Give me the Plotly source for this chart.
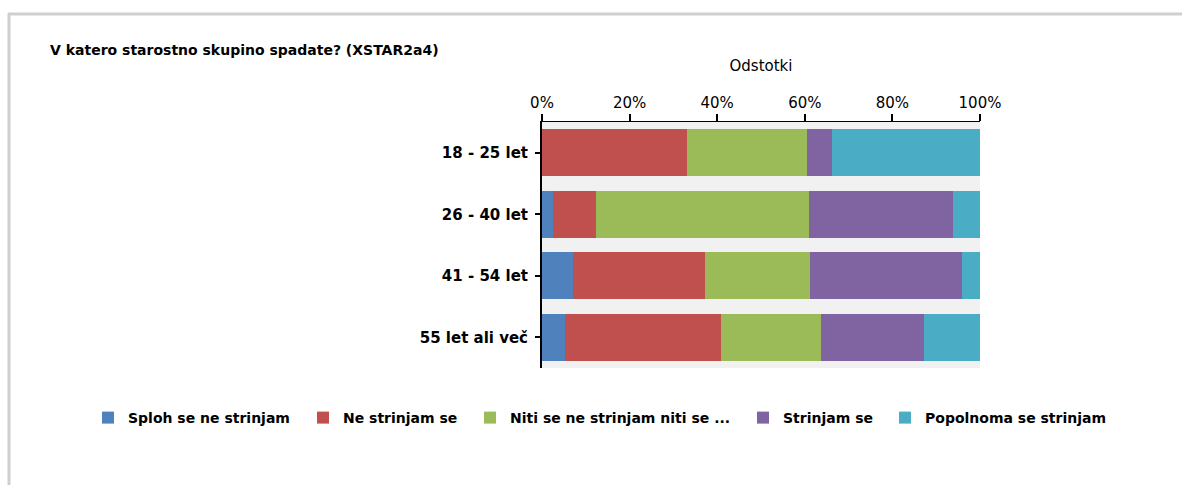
import plotly.graph_objects as go

# Age groups (top to bottom)
categories = ["18 - 25 let", "26 - 40 let", "41 - 54 let", "55 let ali več"]

# Answer shares per age group (fractions of 1)
sploh_se_ne_strinjam = [0.000, 0.024, 0.070, 0.052]
ne_strinjam_se = [0.330, 0.099, 0.302, 0.356]
niti_niti = [0.276, 0.486, 0.239, 0.229]
strinjam_se = [0.056, 0.329, 0.349, 0.234]
popolnoma_se_strinjam = [0.338, 0.062, 0.040, 0.129]

series_names = [
    "Sploh se ne strinjam",
    "Ne strinjam se",
    "Niti se ne strinjam niti se ...",
    "Strinjam se",
    "Popolnoma se strinjam",
]
series_values = [
    sploh_se_ne_strinjam,
    ne_strinjam_se,
    niti_niti,
    strinjam_se,
    popolnoma_se_strinjam,
]
series_colors = ["#4F81BD", "#C0504D", "#9BBB59", "#8064A2", "#4BACC6"]

title_text = "V katero starostno skupino spadate? (XSTAR2a4)"
axis_title = "Odstotki"

FONT = "DejaVu Sans"

# plot area in pixels
PL, PR, PT, PB = 542, 980, 122, 368
PW, PH = PR - PL, PB - PT


def px_x(px):
    return (px - PL) / PW


def px_y(py):
    return (PB - py) / PH


# one legend box per series, left edges along the bottom row (pixels)
legend_ids = ["legend", "legend2", "legend3", "legend4", "legend5"]
legend_left = [88, 303, 470, 743, 885]

fig = go.Figure()
for name, vals, col, leg in zip(series_names, series_values, series_colors, legend_ids):
    fig.add_trace(
        go.Bar(
            y=categories,
            x=vals,
            name=name,
            orientation="h",
            marker=dict(color=col, line=dict(width=0)),
            width=0.76,
            legend=leg,
            hoverinfo="name+x",
        )
    )

legend_style = dict(
    orientation="h",
    xanchor="left",
    yanchor="middle",
    y=px_y(418),
    font=dict(family=FONT, size=14, color="black", weight="bold"),
    traceorder="normal",
    bgcolor="rgba(0,0,0,0)",
)

fig.update_layout(
    barmode="stack",
    width=1182,
    height=485,
    margin=dict(l=PL, r=1182 - PR, t=PT, b=485 - PB, autoexpand=False),
    paper_bgcolor="white",
    plot_bgcolor="#f1f1f1",
    font=dict(family=FONT, size=14, color="black"),
    title=dict(
        text="<b>" + title_text + "</b>",
        x=50 / 1182,
        xanchor="left",
        xref="container",
        y=1 - 50 / 485,
        yanchor="middle",
        yref="container",
        font=dict(family=FONT, size=14, color="black"),
    ),
    xaxis=dict(
        side="top",
        range=[0, 1],
        tickvals=[0, 0.2, 0.4, 0.6, 0.8, 1.0],
        tickformat=".0%",
        ticks="outside",
        ticklen=7,
        tickwidth=2,
        tickcolor="black",
        showline=True,
        linecolor="black",
        linewidth=1,
        showgrid=False,
        zeroline=False,
        fixedrange=True,
        tickfont=dict(family=FONT, size=15, color="black"),
        title=dict(text=axis_title, standoff=18, font=dict(family=FONT, size=15, color="black")),
    ),
    yaxis=dict(
        categoryorder="array",
        categoryarray=categories,
        autorange="reversed",
        ticks="outside",
        ticklen=5,
        tickwidth=2,
        tickcolor="black",
        showline=True,
        linecolor="black",
        linewidth=2,
        showgrid=False,
        zeroline=False,
        fixedrange=True,
        ticklabelstandoff=4,
        tickfont=dict(family=FONT, size=15, color="black", weight="bold"),
    ),
    showlegend=True,
)
fig.update_layout(
    {leg: dict(legend_style, x=px_x(left)) for leg, left in zip(legend_ids, legend_left)}
)

# Light grey frame around the chart area (top and left edges)
frame_color = "#cfcfcf"
fig.add_shape(
    type="line", xref="paper", yref="paper",
    x0=px_x(8), x1=px_x(1182),
    y0=px_y(14), y1=px_y(14),
    line=dict(color=frame_color, width=3),
)
fig.add_shape(
    type="line", xref="paper", yref="paper",
    x0=px_x(9), x1=px_x(9),
    y0=px_y(13), y1=px_y(490),
    line=dict(color=frame_color, width=3),
)

fig.write_html("out.html")
